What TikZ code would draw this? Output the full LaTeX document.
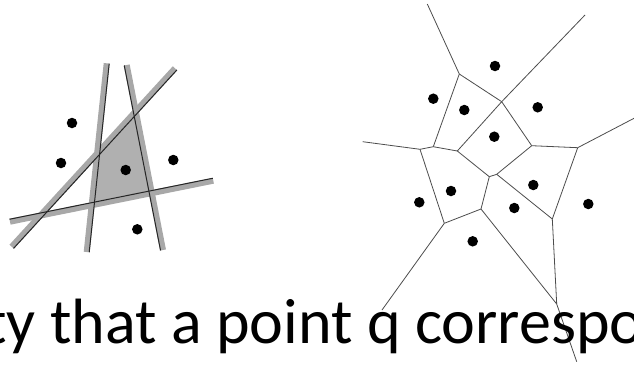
\documentclass[tikz,border=0pt]{standalone}
\usepackage{fontspec}
\setmainfont{Carlito}
\usetikzlibrary{calc}
\begin{document}
\begin{tikzpicture}[x=1pt,y=-1pt,
  band/.style={line width=6pt, draw=gray!68},
  bandedge/.style={line width=1pt, draw=black!85},
  vor/.style={line width=0.8pt, draw=black!70},
  site/.style={circle, fill=black, inner sep=0pt, minimum size=10.5pt},
  caption/.style={anchor=base west, inner sep=0pt, font=\fontsize{64}{70}\selectfont}]
\useasboundingbox (0,0) rectangle (634,364);
\clip (0,0) rectangle (634,364);
% ---------- left figure: half-plane arrangement ----------
\coordinate (l1a) at (106.7,63.3);  \coordinate (l1b) at (86.7,252);
\coordinate (l2a) at (126.7,65);    \coordinate (l2b) at (163,250);
\coordinate (l3a) at (175,68.3);    \coordinate (l3b) at (11.7,246.7);
\coordinate (l4a) at (213.3,180.7); \coordinate (l4b) at (10,221.7);
% inner edges
\coordinate (e1a) at ($(l1a)+(2.5,0.26)$);   \coordinate (e1b) at ($(l1b)+(2.5,0.26)$);
\coordinate (e2a) at ($(l2a)+(-2.45,0.48)$); \coordinate (e2b) at ($(l2b)+(-2.45,0.48)$);
\coordinate (e3a) at ($(l3a)+(1.85,1.69)$);  \coordinate (e3b) at ($(l3b)+(1.85,1.69)$);
\coordinate (e4a) at ($(l4a)+(-0.5,-2.45)$); \coordinate (e4b) at ($(l4b)+(-0.5,-2.45)$);
\coordinate (p13) at (intersection of e1a--e1b and e3a--e3b);
\coordinate (p32) at (intersection of e3a--e3b and e2a--e2b);
\coordinate (p24) at (intersection of e2a--e2b and e4a--e4b);
\coordinate (p41) at (intersection of e4a--e4b and e1a--e1b);
\fill[gray!62] (p13) -- (p32) -- (p24) -- (p41) -- cycle;
\draw[band] (l1a) -- (l1b);
\draw[band] (l2a) -- (l2b);
\draw[band] (l3a) -- (l3b);
\draw[band] (l4a) -- (l4b);
\draw[bandedge] (e1a) -- (e1b);
\draw[bandedge] (e2a) -- (e2b);
\draw[bandedge] (e3a) -- (e3b);
\draw[bandedge] (e4a) -- (e4b);
\node[site] (s1) at (72,123) {};
\node[site] (s2) at (61,163) {};
\node[site] (s3) at (125.7,170) {};
\node[site] (s4) at (173.3,160) {};
\node[site] (s5) at (137.3,229.3) {};
% ---------- right figure: Voronoi diagram ----------
\coordinate (A) at (459.3,74);
\coordinate (B) at (501.7,101.7);
\coordinate (C) at (433.3,146.7);
\coordinate (D) at (420,149.3);
\coordinate (E) at (457.3,151);
\coordinate (F) at (531.7,145.7);
\coordinate (G) at (577.7,147.7);
\coordinate (H) at (489.3,176.7);
\coordinate (I) at (496.7,174.3);
\coordinate (J) at (481,209);
\coordinate (K) at (444.3,223.3);
\coordinate (L) at (552.3,219);
\coordinate (M) at (556.7,304);
\coordinate (At) at (427.3,4);
\coordinate (Bt) at (585,15);
\coordinate (Dl) at (362.7,141.7);
\coordinate (Gr) at (634,118.3);
\coordinate (Kb) at (382,310);
\coordinate (Mb) at (576.7,361.7);
\draw[vor] (A) -- (At);
\draw[vor] (A) -- (B);
\draw[vor] (A) -- (C);
\draw[vor] (B) -- (Bt);
\draw[vor] (B) -- (E);
\draw[vor] (B) -- (F);
\draw[vor] (D) -- (Dl);
\draw[vor] (D) -- (C);
\draw[vor] (C) -- (E);
\draw[vor] (E) -- (H);
\draw[vor] (H) -- (I);
\draw[vor] (I) -- (F);
\draw[vor] (F) -- (G);
\draw[vor] (G) -- (Gr);
\draw[vor] (G) -- (L);
\draw[vor] (I) -- (L);
\draw[vor] (H) -- (J);
\draw[vor] (J) -- (K);
\draw[vor] (D) -- (K);
\draw[vor] (K) -- (Kb);
\draw[vor] (J) -- (M);
\draw[vor] (L) -- (M);
\draw[vor] (M) -- (Mb);
\node[site] (v1) at (495,66) {};
\node[site] (v2) at (433.3,98.7) {};
\node[site] (v3) at (464.3,110) {};
\node[site] (v4) at (537.7,107.3) {};
\node[site] (v5) at (494.3,136.7) {};
\node[site] (v6) at (451,191) {};
\node[site] (v7) at (419.3,202.3) {};
\node[site] (v8) at (533.3,185) {};
\node[site] (v9) at (514.3,208) {};
\node[site] (v10) at (588.3,204) {};
\node[site] (v11) at (472.7,241.3) {};
% ---------- caption ----------
\node[caption] (cap) at (-15,343) {ty that a point q corresponds};
\end{tikzpicture}
\end{document}
